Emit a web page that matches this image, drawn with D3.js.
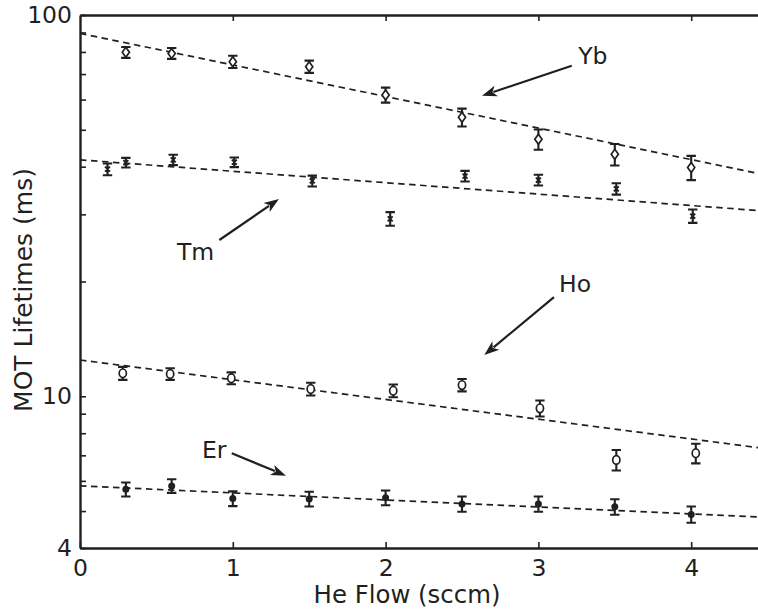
<!DOCTYPE html>
<html>
<head>
<meta charset="utf-8">
<script src="https://cdn.jsdelivr.net/npm/d3@7"></script>
<style>
  html, body { margin: 0; padding: 0; background: #fff; }
  svg { display: block; }
  text { font-family: "DejaVu Sans", sans-serif; fill: #231f20; }
</style>
</head>
<body>
<svg id="chart" width="758" height="610"></svg>
<script>
// ---------- data ----------
const ybFlow  = [0.30, 0.60, 1.00, 1.50, 2.00, 2.50, 3.00, 3.50, 4.00];
const ybLife  = [79.8, 79.3, 75.4, 73.2, 61.7, 53.9, 47.2, 43.1, 39.8];
const ybErr   = [2.6, 2.6, 2.8, 2.7, 2.8, 2.9, 2.9, 2.8, 2.9];

const tmFlow  = [0.18, 0.30, 0.61, 1.01, 1.52, 2.03, 2.52, 3.00, 3.51, 4.01];
const tmLife  = [39.4, 41.0, 41.7, 41.1, 36.7, 29.2, 37.8, 36.9, 35.0, 29.7];
const tmErr   = [1.4, 1.2, 1.3, 1.2, 1.2, 1.2, 1.2, 1.2, 1.2, 1.2];

const hoFlow  = [0.28, 0.59, 0.99, 1.51, 2.05, 2.50, 3.01, 3.51, 4.03];
const hoLife  = [11.49, 11.44, 11.15, 10.45, 10.34, 10.70, 9.30, 6.81, 7.09];
const hoErr   = [0.45, 0.4, 0.4, 0.4, 0.4, 0.4, 0.45, 0.42, 0.42];

const erFlow  = [0.30, 0.60, 1.00, 1.50, 2.00, 2.50, 3.00, 3.50, 4.00];
const erLife  = [5.70, 5.82, 5.39, 5.38, 5.42, 5.22, 5.22, 5.13, 4.90];
const erErr   = [0.24, 0.24, 0.24, 0.24, 0.24, 0.24, 0.24, 0.24, 0.24];

// fitted exponential decay lines (straight on log axis), endpoints
const fitFlow = [0, 4.5];
const ybFit   = [89.5, 37.96];
const tmFit   = [41.7, 30.57];
const hoFit   = [12.45, 7.28];
const erFit   = [5.82, 4.81];

// annotations: label, text anchor point, arrow tail, arrow head (data coords)
const annLabels = ["Yb", "Tm", "Ho", "Er"];
const annText   = [[3.26, 74.4], [0.635, 22.8], [3.135, 18.77], [0.798, 6.89]];
const annTail   = [[3.218, 73.6], [0.912, 25.7], [3.102, 18.2], [0.993, 7.09]];
const annHead   = [[2.631, 61.4], [1.302, 32.9], [2.646, 12.83], [1.348, 6.19]];

const xTicks = [0, 1, 2, 3, 4];
const yTicks = [4, 5, 6, 7, 8, 9, 10, 20, 30, 40, 50, 60, 70, 80, 90, 100];
const yTickLabels = [4, 10, 100];
const xLabel = "He Flow (sccm)";
const yLabel = "MOT Lifetimes (ms)";

(function () {
// ---------- layout ----------
const svg = d3.select("#chart");
const mLeft = 80, mTop = 15, mBottom = 548;
const pxPerUnit = 152.8;
const x = d3.scaleLinear().domain([0, 4.5]).range([mLeft, mLeft + 4.5 * pxPerUnit]);
const y = d3.scaleLog().domain([4, 100]).range([mBottom, mTop]);
const ink = "#231f20";
const fontSize = 23.5;

// fit lines
const fits = [ybFit, tmFit, hoFit, erFit];
const line = d3.line().x(d => x(d[0])).y(d => y(d[1]));
fits.forEach(f => {
  svg.append("path")
    .attr("d", line(fitFlow.map((fx, i) => [fx, f[i]])))
    .attr("fill", "none")
    .attr("stroke", ink)
    .attr("stroke-width", 1.7)
    .attr("stroke-dasharray", "6.5,4.5");
});

// error bars + markers
const series = [
  {flow: ybFlow, life: ybLife, err: ybErr, marker: "diamond"},
  {flow: tmFlow, life: tmLife, err: tmErr, marker: "star"},
  {flow: hoFlow, life: hoLife, err: hoErr, marker: "circle"},
  {flow: erFlow, life: erLife, err: erErr, marker: "dot"}
];
const cap = 4.7;
series.forEach(s => {
  const g = svg.append("g");
  s.flow.forEach((fx, i) => {
    const cx = x(fx), cy = y(s.life[i]);
    const y1 = y(s.life[i] + s.err[i]), y2 = y(s.life[i] - s.err[i]);
    g.append("path")
      .attr("d", `M${cx},${y1}V${y2}M${cx - cap},${y1}H${cx + cap}M${cx - cap},${y2}H${cx + cap}`)
      .attr("stroke", ink).attr("stroke-width", 2.1).attr("fill", "none");
    if (s.marker === "diamond") {
      g.append("path")
        .attr("d", `M${cx},${cy - 5}L${cx + 3.6},${cy}L${cx},${cy + 5}L${cx - 3.6},${cy}Z`)
        .attr("fill", "#fff").attr("stroke", ink).attr("stroke-width", 1.7);
    } else if (s.marker === "circle") {
      g.append("ellipse")
        .attr("cx", cx).attr("cy", cy).attr("rx", 3.6).attr("ry", 4.3)
        .attr("fill", "#fff").attr("stroke", ink).attr("stroke-width", 1.7);
    } else if (s.marker === "dot") {
      g.append("circle")
        .attr("cx", cx).attr("cy", cy).attr("r", 3.5)
        .attr("fill", ink);
    } else {
      g.append("path")
        .attr("d", `M${cx - 2.5},${cy - 2.5}L${cx + 2.5},${cy + 2.5}M${cx + 2.5},${cy - 2.5}L${cx - 2.5},${cy + 2.5}M${cx},${cy - 3}V${cy + 3}`)
        .attr("stroke", ink).attr("stroke-width", 1.8);
    }
  });
});

// axes
const yAxis = d3.axisLeft(y).tickValues(yTicks).tickSizeInner(-6).tickSizeOuter(0).tickPadding(8)
  .tickFormat(d => yTickLabels.includes(d) ? String(d) : "");
const xAxis = d3.axisBottom(x).tickValues(xTicks).tickSizeInner(-6).tickSizeOuter(0).tickPadding(11)
  .tickFormat(d3.format("d"));
const xTop = d3.axisTop(x).tickValues(xTicks.slice(1)).tickSizeInner(-6).tickSizeOuter(0).tickFormat("");

function styleAxis(g) {
  g.select(".domain").attr("stroke", ink).attr("stroke-width", 2.4);
  g.selectAll(".tick line").attr("stroke", ink).attr("stroke-width", 1.6);
  g.selectAll(".tick text").attr("font-size", fontSize).attr("fill", ink)
    .attr("font-family", "DejaVu Sans, sans-serif");
}
svg.append("g").attr("transform", `translate(${mLeft},0)`).call(yAxis).call(styleAxis);
svg.append("g").attr("transform", `translate(0,${mBottom})`).call(xAxis).call(styleAxis);
svg.append("g").attr("transform", `translate(0,${mTop})`).call(xTop).call(styleAxis);

// axis labels
svg.append("text")
  .attr("x", 407).attr("y", 603)
  .attr("text-anchor", "middle").attr("font-size", 24.4)
  .text(xLabel);
svg.append("text")
  .attr("transform", `translate(32,290) rotate(-90)`)
  .attr("text-anchor", "middle").attr("font-size", 25)
  .text(yLabel);

// annotations
annLabels.forEach((lab, i) => {
  svg.append("text")
    .attr("x", x(annText[i][0])).attr("y", y(annText[i][1]))
    .attr("font-size", fontSize).text(lab);
  const x1 = x(annTail[i][0]), y1 = y(annTail[i][1]);
  const x2 = x(annHead[i][0]), y2 = y(annHead[i][1]);
  const ang = Math.atan2(y2 - y1, x2 - x1);
  const L = 15, W = 5.5;
  const bx = x2 - L * Math.cos(ang), by = y2 - L * Math.sin(ang);
  svg.append("line")
    .attr("x1", x1).attr("y1", y1).attr("x2", bx + 3 * Math.cos(ang)).attr("y2", by + 3 * Math.sin(ang))
    .attr("stroke", ink).attr("stroke-width", 2.2);
  const px = -Math.sin(ang), py = Math.cos(ang);
  svg.append("path")
    .attr("d", `M${x2},${y2}L${bx + W * px},${by + W * py}L${bx + 4 * Math.cos(ang)},${by + 4 * Math.sin(ang)}L${bx - W * px},${by - W * py}Z`)
    .attr("fill", ink);
});
})();
</script>
</body>
</html>
